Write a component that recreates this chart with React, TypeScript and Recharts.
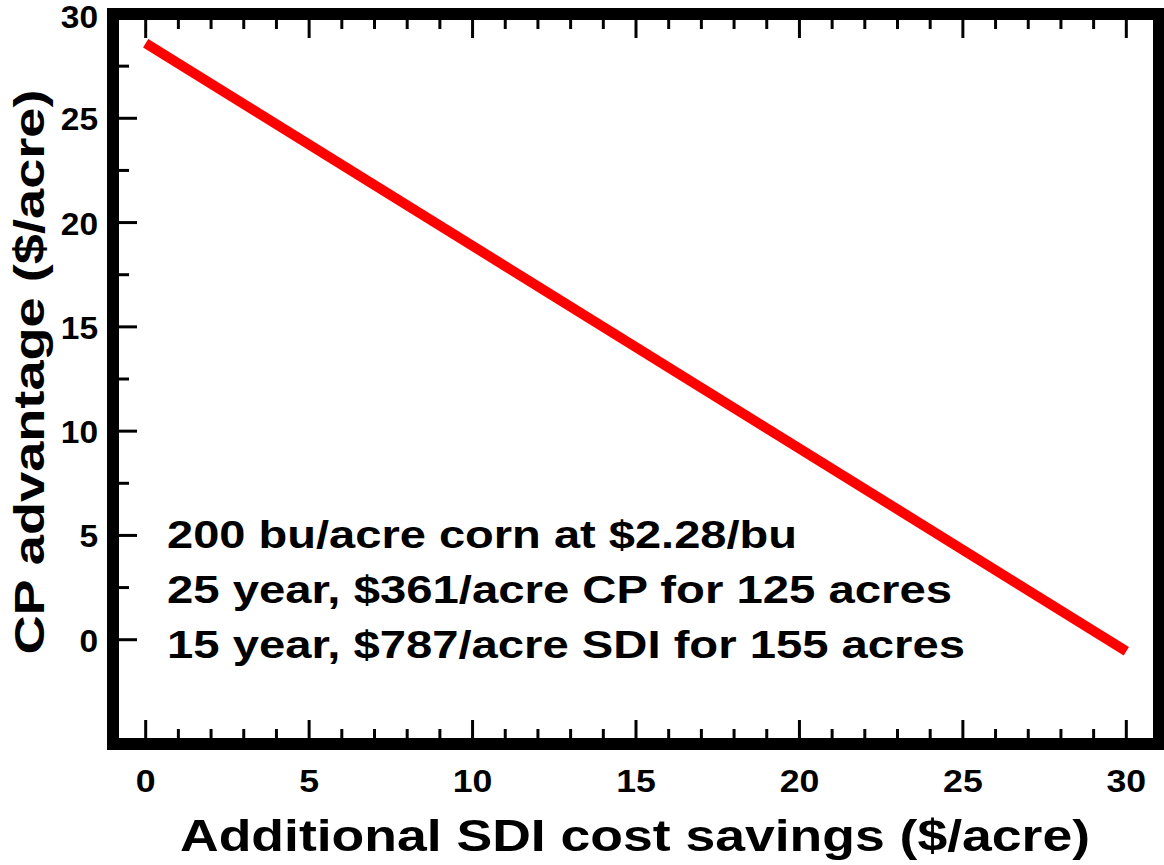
import React from 'react';
import { LineChart, Line, XAxis, YAxis, ReferenceArea, Label } from 'recharts';

const savings = [0, 30];
const cpAdvantage = [28.6, -0.55];
const xTicks = [0, 1, 2, 3, 4, 5, 6, 7, 8, 9, 10, 11, 12, 13, 14, 15, 16, 17, 18, 19, 20, 21, 22, 23, 24, 25, 26, 27, 28, 29, 30];
const yTicks = [0, 2.5, 5, 7.5, 10, 12.5, 15, 17.5, 20, 22.5, 25, 27.5, 30];
const xTitle = 'Additional SDI cost savings ($/acre)';
const yTitle = 'CP advantage ($/acre)';
const notes = [
  '200 bu/acre corn at $2.28/bu',
  '25 year, $361/acre CP for 125 acres',
  '15 year, $787/acre SDI for 155 acres',
];

const data = savings.map((s, i) => ({ s, v: cpAdvantage[i] }));

const FONT = '"Liberation Sans", Arial, Helvetica, sans-serif';
const isMajor = (v: number) => Math.abs(v % 5) < 1e-9;

const BottomTick = (props: any) => {
  const { x, y, payload } = props;
  const v = payload.value;
  const len = isMajor(v) ? 24 : 15;
  return (
    <g>
      <line x1={x} y1={y} x2={x} y2={y - len} stroke="#000" strokeWidth={3} />
      {isMajor(v) && (
        <text x={0} y={0} transform={`translate(${x},${y + 48}) scale(1.15,1)`} textAnchor="middle" fontFamily={FONT} fontWeight={700} fontSize={31} fill="#000">
          {v}
        </text>
      )}
    </g>
  );
};

const TopTick = (props: any) => {
  const { x, y, payload } = props;
  const len = isMajor(payload.value) ? 24 : 15;
  return <line x1={x} y1={y} x2={x} y2={y + len} stroke="#000" strokeWidth={3} />;
};

const LeftTick = (props: any) => {
  const { x, y, payload } = props;
  const v = payload.value;
  const len = isMajor(v) ? 24 : 16;
  const dy = v >= 30 ? 14 : 12;
  return (
    <g>
      {v < 30 && <line x1={x} y1={y} x2={x + len} y2={y} stroke="#000" strokeWidth={3} />}
      {isMajor(v) && (
        <text x={0} y={0} transform={`translate(${x - 15},${y + dy}) scale(1.08,1)`} textAnchor="end" fontFamily={FONT} fontWeight={700} fontSize={31} fill="#000">
          {v}
        </text>
      )}
    </g>
  );
};

const RightTick = (props: any) => {
  const { x, y, payload } = props;
  const v = payload.value;
  if (v >= 30) return <g />;
  const len = isMajor(v) ? 24 : 16;
  return <line x1={x} y1={y} x2={x - len} y2={y} stroke="#000" strokeWidth={3} />;
};

const XTitleContent = () => (
  <g>
    <text x={635} y={851} textAnchor="middle" textLength={910} lengthAdjust="spacingAndGlyphs" fontFamily={FONT} fontWeight={700} fontSize={45} fill="#000">
      {xTitle}
    </text>
  </g>
);

const YTitleContent = () => (
  <text x={0} y={0} transform="translate(44,372) rotate(-90)" textAnchor="middle" textLength={565} lengthAdjust="spacingAndGlyphs" fontFamily={FONT} fontWeight={700} fontSize={42} fill="#000">
    {yTitle}
  </text>
);

const noteLengths = [630, 785, 798];
const NotesContent = () => (
  <g>
    {notes.map((t, i) => (
      <text key={i} x={167} y={548 + i * 55} textLength={noteLengths[i]} lengthAdjust="spacingAndGlyphs" fontFamily={FONT} fontWeight={700} fontSize={39} fill="#000">
        {t}
      </text>
    ))}
  </g>
);

export default function App() {
  return (
    <div style={{ position: 'absolute', left: 0, top: 0, background: '#fff' }}>
      <LineChart width={1164} height={865} data={data} margin={{ top: 0, right: 0, bottom: 0, left: 0 }}>
        <XAxis dataKey="s" type="number" domain={[-1, 31]} ticks={xTicks} interval={0} height={121} axisLine={false} tickLine={false} tickSize={0} tickMargin={0} tick={<BottomTick />}>
          <Label content={<XTitleContent />} />
        </XAxis>
        <XAxis xAxisId="top" orientation="top" dataKey="s" type="number" domain={[-1, 31]} ticks={xTicks} interval={0} height={14} axisLine={false} tickLine={false} tickSize={0} tickMargin={0} tick={<TopTick />} />
        <YAxis type="number" domain={[-5, 30]} ticks={yTicks} interval={0} width={113} axisLine={false} tickLine={false} tickSize={0} tickMargin={0} tick={<LeftTick />}>
          <Label content={<YTitleContent />} />
        </YAxis>
        <YAxis yAxisId="right" orientation="right" type="number" domain={[-5, 30]} ticks={yTicks} interval={0} width={5} axisLine={false} tickLine={false} tickSize={0} tickMargin={0} tick={<RightTick />} />
        <ReferenceArea x1={-1} x2={31} y1={-5} y2={30} fill="none" stroke="#000" strokeWidth={12} label={<NotesContent />} />
        <Line dataKey="v" type="linear" stroke="#ff0000" strokeWidth={10} dot={false} activeDot={false} isAnimationActive={false} />
      </LineChart>
    </div>
  );
}
